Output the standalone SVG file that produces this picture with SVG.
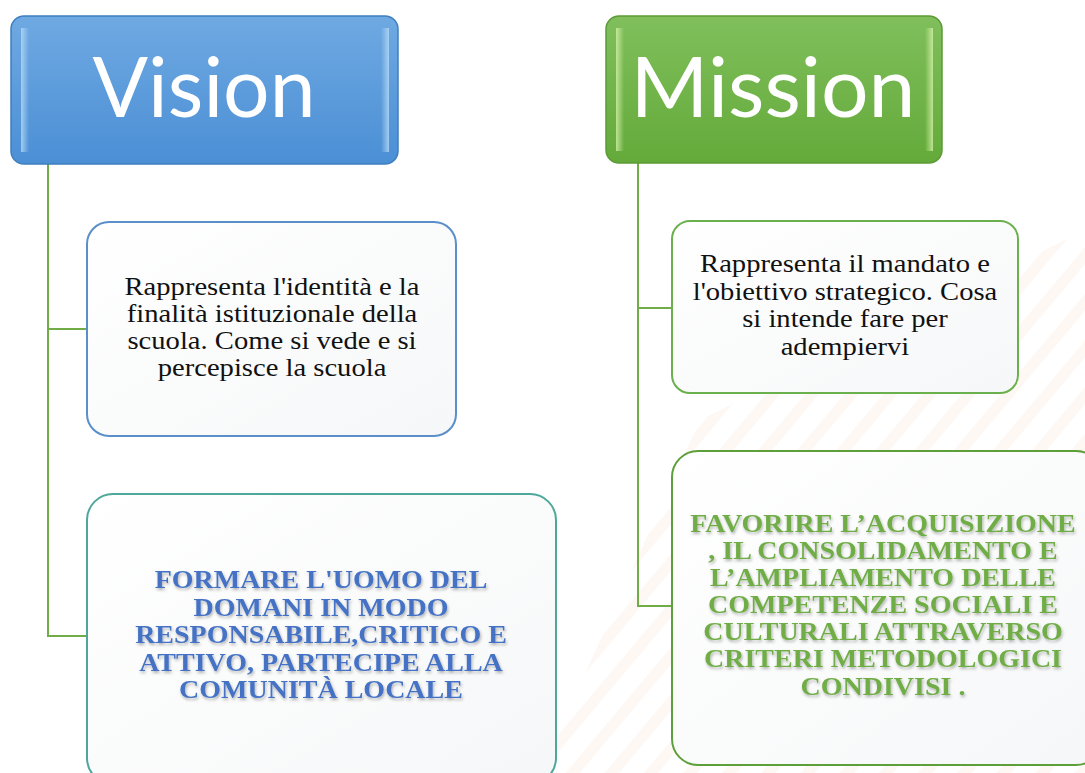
<svg xmlns="http://www.w3.org/2000/svg" width="1085" height="773" viewBox="0 0 1085 773">
<defs>
<linearGradient id="gBlue" x1="0" y1="0" x2="0" y2="1">
<stop offset="0" stop-color="#6fa9e2"/><stop offset="1" stop-color="#4b8fd5"/>
</linearGradient>
<linearGradient id="gGreen" x1="0" y1="0" x2="0" y2="1">
<stop offset="0" stop-color="#80bf5c"/><stop offset="1" stop-color="#64aa3a"/>
</linearGradient>
<linearGradient id="gWhite" x1="0" y1="0" x2="1" y2="1">
<stop offset="0" stop-color="#ffffff"/><stop offset="1" stop-color="#f6f7f8"/>
</linearGradient>
<linearGradient id="gEdgeB" x1="0" y1="0" x2="1" y2="0">
<stop offset="0" stop-color="#b8dcf7" stop-opacity="0.8"/><stop offset="1" stop-color="#b8dcf7" stop-opacity="0"/>
</linearGradient>
<linearGradient id="gEdgeB2" x1="1" y1="0" x2="0" y2="0">
<stop offset="0" stop-color="#b8dcf7" stop-opacity="0.8"/><stop offset="1" stop-color="#b8dcf7" stop-opacity="0"/>
</linearGradient>
<linearGradient id="gEdgeG" x1="0" y1="0" x2="1" y2="0">
<stop offset="0" stop-color="#d4f2a8" stop-opacity="0.8"/><stop offset="1" stop-color="#d4f2a8" stop-opacity="0"/>
</linearGradient>
<linearGradient id="gEdgeG2" x1="1" y1="0" x2="0" y2="0">
<stop offset="0" stop-color="#d4f2a8" stop-opacity="0.8"/><stop offset="1" stop-color="#d4f2a8" stop-opacity="0"/>
</linearGradient>
<pattern id="stripes" width="30" height="30" patternUnits="userSpaceOnUse" patternTransform="rotate(40)">
<rect x="0" y="0" width="11" height="30" fill="#fdf1ea"/>
</pattern>
<filter id="sh" x="-10%" y="-30%" width="120%" height="160%">
<feDropShadow dx="1" dy="2" stdDeviation="1.5" flood-color="#000" flood-opacity="0.3"/>
</filter>
</defs>
<style>
.head{font-family:Lato,"Open Sans","Liberation Sans",sans-serif;fill:#ffffff;text-anchor:middle}
.body{font-family:"Liberation Serif","Times New Roman",serif;font-size:26px;fill:#111111;text-anchor:middle}
.bold{font-family:"Liberation Serif","Times New Roman",serif;font-size:25px;font-weight:bold;text-anchor:middle}
.conn{fill:none;stroke:#70ad47;stroke-width:2}
</style>
<rect x="0" y="0" width="1085" height="773" fill="#ffffff"/>
<g id="background" opacity="0.5">
<polygon points="540,773 700,420 1085,230 1085,773" fill="url(#stripes)"/>
</g>
<g id="connectors">
<polyline class="conn" points="48,164 48,636 87,636"/>
<line class="conn" x1="48" y1="329" x2="87" y2="329"/>
<polyline class="conn" points="638,163 638,606 672,606"/>
<line class="conn" x1="638" y1="308" x2="672" y2="308"/>
</g>
<g id="vision">
<rect x="11" y="16" width="387" height="148" rx="13" fill="url(#gBlue)" stroke="#3f7fbf" stroke-width="1.5"/>
<rect x="21" y="28" width="8" height="124" fill="url(#gEdgeB)"/>
<rect x="381" y="28" width="8" height="124" fill="url(#gEdgeB2)"/>
<text class="head" x="204" y="117" font-size="84" textLength="223" lengthAdjust="spacingAndGlyphs">Vision</text>
</g>
<g id="mission">
<rect x="606" y="16" width="336" height="147" rx="13" fill="url(#gGreen)" stroke="#5b9a36" stroke-width="1.5"/>
<rect x="616" y="28" width="8" height="123" fill="url(#gEdgeG)"/>
<rect x="925" y="28" width="8" height="123" fill="url(#gEdgeG2)"/>
<text class="head" x="773" y="117" font-size="84" textLength="285" lengthAdjust="spacingAndGlyphs">Mission</text>
</g>
<g id="vision-desc">
<rect x="87" y="222" width="369" height="214" rx="22" fill="url(#gWhite)" stroke="#5a8fca" stroke-width="2"/>
<text class="body" transform="translate(272,0) scale(1.1,1)"><tspan x="0" y="295">Rappresenta l'identità e la</tspan><tspan x="0" y="322">finalità istituzionale della</tspan><tspan x="0" y="349">scuola. Come si vede e si</tspan><tspan x="0" y="376">percepisce la scuola</tspan></text>
</g>
<g id="vision-goal">
<rect x="87" y="494" width="469" height="290" rx="26" fill="url(#gWhite)" stroke="#4ea89a" stroke-width="2"/>
<g filter="url(#sh)" fill="#4472c4">
<text class="bold" transform="translate(321,0) scale(1.12,1)"><tspan x="0" y="588">FORMARE L'UOMO DEL</tspan><tspan x="0" y="616">DOMANI IN MODO</tspan><tspan x="0" y="643">RESPONSABILE,CRITICO E</tspan><tspan x="0" y="671">ATTIVO, PARTECIPE ALLA</tspan><tspan x="0" y="698">COMUNITÀ LOCALE</tspan></text>
</g>
</g>
<g id="mission-desc">
<rect x="672" y="221" width="346" height="172" rx="18" fill="url(#gWhite)" stroke="#6ab04c" stroke-width="2"/>
<text class="body" transform="translate(845,0) scale(1.1,1)"><tspan x="0" y="272">Rappresenta il mandato e</tspan><tspan x="0" y="300">l'obiettivo strategico. Cosa</tspan><tspan x="0" y="327">si intende fare per</tspan><tspan x="0" y="355">adempiervi</tspan></text>
</g>
<g id="mission-goal">
<rect x="672" y="451" width="430" height="314" rx="26" fill="url(#gWhite)" stroke="#5da03a" stroke-width="2"/>
<g filter="url(#sh)" fill="#70ad47">
<text class="bold" transform="translate(883,0) scale(1.12,1)"><tspan x="0" y="532">FAVORIRE L’ACQUISIZIONE</tspan><tspan x="0" y="559">, IL CONSOLIDAMENTO E</tspan><tspan x="0" y="586">L’AMPLIAMENTO DELLE</tspan><tspan x="0" y="613">COMPETENZE SOCIALI E</tspan><tspan x="0" y="640">CULTURALI ATTRAVERSO</tspan><tspan x="0" y="667">CRITERI METODOLOGICI</tspan><tspan x="0" y="695">CONDIVISI .</tspan></text>
</g>
</g>
</svg>
